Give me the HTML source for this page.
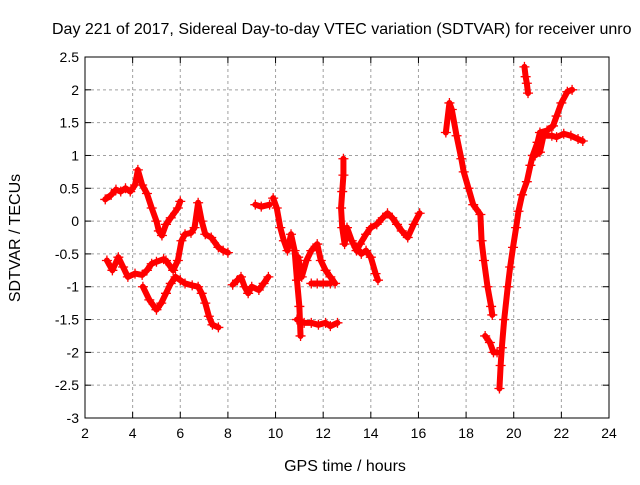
<!DOCTYPE html>
<html><head><meta charset="utf-8"><style>
body{margin:0;background:#fff}
svg text{font-family:"Liberation Sans",sans-serif;font-size:14px;fill:#000}
</style></head><body>
<svg id="chart" width="640" height="480" xmlns="http://www.w3.org/2000/svg">
<text x="52" y="34" style="font-size:16px">Day 221 of 2017, Sidereal Day-to-day VTEC variation (SDTVAR) for receiver unro</text>
<text x="345" y="471" text-anchor="middle" style="font-size:16px">GPS time / hours</text>
<text transform="translate(20,238) rotate(-90)" text-anchor="middle" style="font-size:16px">SDTVAR / TECUs</text>
<g id="grid"></g><g id="marks"></g>
<rect x="85" y="57" width="524" height="361" fill="none" stroke="#000" stroke-width="1"/>
</svg>
<script>
const xTicks=[2,4,6,8,10,12,14,16,18,20,22,24];
const yTicks=[2.5,2,1.5,1,0.5,0,-0.5,-1,-1.5,-2,-2.5,-3];
const s1=[[2.85,0.33],[3.1,0.4],[3.3,0.48],[3.5,0.45],[3.7,0.5],[3.9,0.45],[4.1,0.55],[4.22,0.78],[4.4,0.55],[4.6,0.42],[4.8,0.2],[5.0,0.0],[5.1,-0.15],[5.23,-0.22],[5.4,-0.05],[5.6,0.05],[5.9,0.2],[6.0,0.3]];
const s2=[[2.92,-0.6],[3.15,-0.75],[3.4,-0.55],[3.6,-0.7],[3.8,-0.85],[4.1,-0.8],[4.4,-0.82],[4.6,-0.75],[4.8,-0.65],[5.0,-0.62],[5.3,-0.58]];
const s3=[[4.43,-1.0],[4.7,-1.2],[5.0,-1.35],[5.2,-1.25],[5.4,-1.1],[5.6,-0.95],[5.8,-0.85],[6.0,-0.9],[6.2,-0.95],[6.5,-0.98],[6.75,-1.0],[6.9,-1.1],[7.05,-1.25],[7.2,-1.45],[7.35,-1.58],[7.6,-1.62]];
const s4=[[5.4,-0.6],[5.7,-0.75],[5.9,-0.6],[6.05,-0.3],[6.2,-0.2],[6.45,-0.18],[6.6,-0.1],[6.75,0.28],[6.9,0.0],[7.05,-0.2],[7.3,-0.25],[7.6,-0.4],[7.8,-0.45],[8.0,-0.48]];
const s5=[[8.2,-0.97],[8.4,-0.9],[8.55,-0.85],[8.7,-1.0],[8.85,-1.1],[9.0,-1.0],[9.3,-1.05],[9.5,-0.95],[9.7,-0.85]];
const s6=[[9.15,0.25],[9.4,0.22],[9.75,0.25]];
const s7=[[9.9,0.35],[10.05,0.2],[10.2,-0.1],[10.35,-0.3],[10.5,-0.45],[10.65,-0.2],[10.8,-0.45],[10.9,-0.9],[11.0,-1.3],[11.05,-1.75]];
const s8=[[10.9,-1.5],[11.2,-1.55],[11.5,-1.55],[11.8,-1.58],[12.1,-1.55],[12.3,-1.6],[12.6,-1.55]];
const s9=[[10.95,-0.55],[11.1,-0.85],[11.3,-0.6],[11.5,-0.45],[11.75,-0.35],[11.9,-0.6],[12.1,-0.75],[12.3,-0.85],[12.5,-0.95]];
const s10=[[11.5,-0.95],[11.75,-0.95],[12.0,-0.95],[12.3,-0.95]];
const s11=[[12.85,0.95],[12.85,0.7],[12.8,0.45],[12.75,0.2],[12.8,-0.1],[12.9,-0.35],[13.0,-0.1],[13.2,-0.3],[13.4,-0.45],[13.55,-0.35],[13.8,-0.2],[14.0,-0.1],[14.25,-0.05],[14.5,0.05],[14.7,0.12],[14.9,0.05],[15.1,-0.05],[15.3,-0.15],[15.55,-0.25],[15.8,-0.05],[16.05,0.12]];
const s12=[[13.4,-0.4],[13.6,-0.5],[13.8,-0.45],[14.0,-0.55],[14.2,-0.8],[14.3,-0.9]];
const s13=[[17.15,1.35],[17.3,1.8],[17.4,1.7],[17.6,1.3],[17.8,0.95],[17.9,0.75],[18.1,0.5],[18.3,0.25],[18.6,0.1],[18.65,-0.3],[18.75,-0.6],[18.9,-1.0],[19.05,-1.3],[19.1,-1.43]];
const s14=[[18.8,-1.75],[19.0,-1.85],[19.15,-2.0],[19.3,-2.0]];
const s15=[[19.4,-2.55],[19.45,-2.2],[19.5,-1.93],[19.6,-1.5],[19.75,-1.0],[19.85,-0.7],[19.97,-0.4],[20.1,-0.1],[20.2,0.15],[20.35,0.4],[20.55,0.6],[20.7,0.85],[20.8,1.0],[21.0,1.2],[21.1,1.35],[21.4,1.38],[21.65,1.45],[21.8,1.6],[22.0,1.8],[22.25,1.97],[22.45,2.0]];
const s16=[[20.9,1.0],[21.1,1.05],[21.25,1.3],[21.6,1.3],[21.8,1.28],[22.1,1.33],[22.4,1.3],[22.7,1.25],[22.9,1.22]];
const s17=[[20.45,2.35],[20.5,2.2],[20.55,2.1],[20.6,1.95]];
const series=[s1,s2,s3,s4,s5,s6,s7,s8,s9,s10,s11,s12,s13,s14,s15,s16,s17];
const X0=85,X1=609,Y0=57,Y1=418;
const xs=h=>X0+(h-2)/22*(X1-X0);
const ys=v=>Y0+(2.5-v)/5.5*(Y1-Y0);
const NS="http://www.w3.org/2000/svg";
const grid=document.getElementById('grid'),marks=document.getElementById('marks');
function mk(t,a,p){const e=document.createElementNS(NS,t);for(const k in a)e.setAttribute(k,a[k]);p.appendChild(e);return e;}
xTicks.forEach(t=>{const x=xs(t);
 if(t>2&&t<24){const g=mk('line',{x1:x,x2:x,y1:Y0,y2:Y1,stroke:'#a0a0a0','stroke-dasharray':'3,3'},grid);
 
 }
 mk('line',{x1:x,x2:x,y1:Y1,y2:Y1-6,stroke:'#000'},grid);mk('line',{x1:x,x2:x,y1:Y0,y2:Y0+6,stroke:'#000'},grid);
 const l=mk('text',{x:x,y:Y1+20,'text-anchor':'middle'},grid);l.textContent=t;
 
 });
yTicks.forEach(t=>{const y=ys(t);
 if(t<2.5&&t>-3){const g=mk('line',{x1:X0,x2:X1,y1:y,y2:y,stroke:'#a0a0a0','stroke-dasharray':'3,3'},grid);
 
 }
 mk('line',{x1:X0,x2:X0+6,y1:y,y2:y,stroke:'#000'},grid);mk('line',{x1:X1,x2:X1-6,y1:y,y2:y,stroke:'#000'},grid);
 const l=mk('text',{x:X0-6,y:y+5,'text-anchor':'end'},grid);l.textContent=t;
 
 });
series.forEach((s,i)=>{
 const pl=mk('polyline',{points:s.map(p=>xs(p[0])+','+ys(p[1])).join(' '),fill:'none',stroke:'#ff0000','stroke-width':6,'stroke-linejoin':'round','stroke-linecap':'round'},marks);
 
 
 s.forEach(p=>{const x=xs(p[0]),y=ys(p[1]);
  const m=mk('path',{d:`M${x-5},${y}H${x+5}M${x},${y-5}V${y+5}`,stroke:'#ff0000','stroke-width':1.3},marks);
  
  });
});
</script>
</body></html>
